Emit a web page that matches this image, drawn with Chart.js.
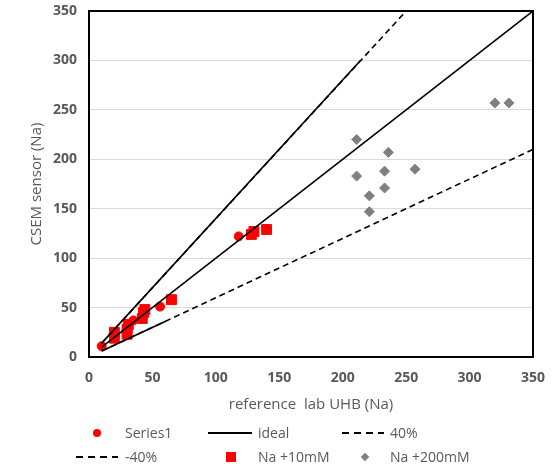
<!DOCTYPE html>
<html>
<head>
<meta charset="utf-8">
<script src="https://cdn.jsdelivr.net/npm/chart.js@4"></script>
<style>
  body { margin: 0; background: #fff; }
  #wrap { position: relative; width: 556px; height: 464px; }
  #legend { position: absolute; left: 0; top: 0; width: 556px; height: 464px; pointer-events: none;
            font-family: "Open Sans", "Liberation Sans", sans-serif; font-size: 14px; color: #595959; }
  .item { position: absolute; line-height: 20px; }
  .mark { position: absolute; }
</style>
</head>
<body>
<div id="wrap">
  <canvas id="chart" width="556" height="464"></canvas>
  <div id="legend"></div>
</div>
<script>
// Series1 (red circles)
const series1X = [10, 35, 56, 118];
const series1Y = [11, 37, 51, 122];

// Na +10mM (red squares)
const na10X = [20, 20, 30, 30, 31, 42, 43, 44, 65, 128, 130, 140];
const na10Y = [19, 25, 23, 28, 33, 39, 45, 48, 58, 124, 127, 129];

// Na +200mM (grey diamonds)
const na200X = [211, 236, 211, 233, 257, 233, 221, 221, 320, 331];
const na200Y = [220, 207, 183, 188, 190, 171, 163, 147, 257, 257];

// reference lines
const idealX = [10, 350];
const idealY = [10, 350];
const plus40X = [10, 250];
const plus40Y = [14, 350];
const minus40X = [10, 350];
const minus40Y = [6, 210];
// solid parts drawn over the start of the +/-40% lines
const plus40SolidX = [10, 214];
const plus40SolidY = [14, 300];
const minus40SolidX = [10, 60];
const minus40SolidY = [6, 36];

const axisTicks = [0, 50, 100, 150, 200, 250, 300, 350];

function pts(xs, ys) {
    return xs.map((x, i) => ({ x: x, y: ys[i] }));
}

function lineSet(label, xs, ys, dash) {
    return {
        label: label,
        data: pts(xs, ys),
        showLine: true,
        borderColor: "#000000",
        borderWidth: 1.6,
        borderDash: dash,
        pointRadius: 0,
        pointHoverRadius: 0
    };
}

// black frame round the plot area
const framePlugin = {
    id: "frame",
    afterDraw(chart) {
        const a = chart.chartArea;
        const ctx = chart.ctx;
        ctx.save();
        ctx.strokeStyle = "#000000";
        ctx.lineWidth = 2;
        ctx.strokeRect(a.left, a.top, a.right - a.left, a.bottom - a.top);
        ctx.restore();
    }
};

const tickFont = { family: "Open Sans, Liberation Sans", size: 14, weight: "bold" };
const titleFont = { family: "Open Sans, Liberation Sans", size: 15 };

new Chart(document.getElementById("chart").getContext("2d"), {
    type: "scatter",
    data: {
        datasets: [
            lineSet("ideal", idealX, idealY, []),
            lineSet("40%", plus40X, plus40Y, [6, 4]),
            lineSet("-40%", minus40X, minus40Y, [6, 4]),
            lineSet("40% solid", plus40SolidX, plus40SolidY, []),
            lineSet("-40% solid", minus40SolidX, minus40SolidY, []),
            {
                label: "Series1",
                data: pts(series1X, series1Y),
                backgroundColor: "#ff0000",
                borderColor: "#ff0000",
                pointStyle: "circle",
                pointRadius: 4.5
            },
            {
                label: "Na +10mM",
                data: pts(na10X, na10Y),
                backgroundColor: "#ff0000",
                borderColor: "#ff0000",
                pointStyle: "rect",
                pointRadius: 7
            },
            {
                label: "Na +200mM",
                data: pts(na200X, na200Y),
                backgroundColor: "#7f7f7f",
                borderColor: "#7f7f7f",
                pointStyle: "rectRot",
                pointRadius: 5
            }
        ]
    },
    options: {
        responsive: false,
        animation: false,
        layout: { padding: { left: 28, right: 23, top: 11, bottom: 50 } },
        plugins: {
            legend: { display: false },
            tooltip: { enabled: false }
        },
        scales: {
            x: {
                type: "linear",
                min: 0,
                max: 350,
                afterBuildTicks: (scale) => { scale.ticks = axisTicks.map(v => ({ value: v })); },
                afterFit: (scale) => {
                    scale.height = 57;
                    scale.paddingLeft = 0;
                    scale.paddingRight = 0;
                },
                grid: { display: false, drawTicks: false },
                border: { display: false },
                ticks: { color: "#595959", font: tickFont, padding: 13 },
                title: { display: true, text: "reference  lab UHB (Na)", color: "#595959", font: titleFont, padding: 0 }
            },
            y: {
                type: "linear",
                min: 0,
                max: 350,
                afterBuildTicks: (scale) => { scale.ticks = axisTicks.map(v => ({ value: v })); },
                afterFit: (scale) => {
                    scale.width = 61;
                    scale.paddingTop = 0;
                    scale.paddingBottom = 0;
                },
                grid: { color: "#d9d9d9", lineWidth: 1, drawTicks: false },
                border: { display: false },
                ticks: { color: "#595959", font: tickFont, padding: 12 },
                title: { display: true, text: "CSEM sensor (Na)", color: "#595959", font: titleFont, padding: 0 }
            }
        }
    },
    plugins: [framePlugin]
});

// legend laid out in three columns, two rows
const legendItems = [
    { text: "Series1", kind: "circle", x: 125, y: 433, mx: 97 },
    { text: "ideal", kind: "solid", x: 258, y: 433, mx: 208 },
    { text: "40%", kind: "dash", x: 390, y: 433, mx: 342 },
    { text: "-40%", kind: "dash", x: 125, y: 457, mx: 76 },
    { text: "Na +10mM", kind: "square", x: 258, y: 457, mx: 231 },
    { text: "Na +200mM", kind: "diamond", x: 390, y: 457, mx: 365 }
];

const legend = document.getElementById("legend");
legendItems.forEach(it => {
    const label = document.createElement("div");
    label.className = "item";
    label.textContent = it.text;
    label.style.left = it.x + "px";
    label.style.top = (it.y - 10) + "px";
    legend.appendChild(label);

    const m = document.createElement("div");
    m.className = "mark";
    if (it.kind === "circle") {
        Object.assign(m.style, { left: (it.mx - 4) + "px", top: (it.y - 4) + "px", width: "8px", height: "8px",
            borderRadius: "50%", background: "#ff0000" });
    } else if (it.kind === "solid") {
        Object.assign(m.style, { left: it.mx + "px", top: (it.y - 1) + "px", width: "44px", height: "0",
            borderTop: "2px solid #000" });
    } else if (it.kind === "dash") {
        Object.assign(m.style, { left: it.mx + "px", top: (it.y - 1) + "px", width: "42px", height: "2px",
            background: "repeating-linear-gradient(90deg, #000 0 7px, transparent 7px 12px)" });
    } else if (it.kind === "square") {
        Object.assign(m.style, { left: (it.mx - 5) + "px", top: (it.y - 5) + "px", width: "10px", height: "10px",
            background: "#ff0000" });
    } else {
        Object.assign(m.style, { left: (it.mx - 3) + "px", top: (it.y - 3) + "px", width: "6px", height: "6px",
            background: "#7f7f7f", transform: "rotate(45deg)" });
    }
    legend.appendChild(m);
});
</script>
</body>
</html>
